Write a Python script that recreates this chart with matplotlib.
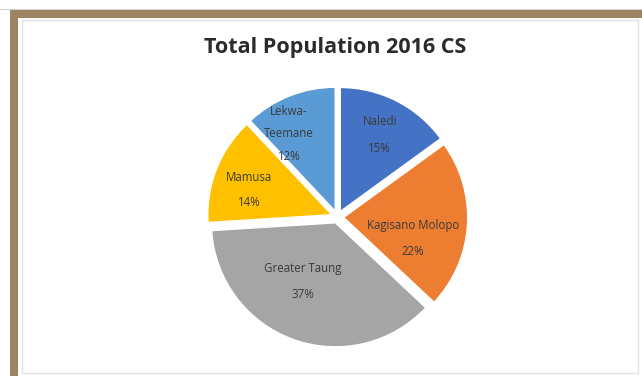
import matplotlib
matplotlib.use("Agg")
import matplotlib.pyplot as plt
from matplotlib.patches import Rectangle

# Data
districts = ["Naledi", "Kagisano Molopo", "Greater Taung", "Mamusa", "Lekwa-\nTeemane"]
shares = [15, 22, 37, 14, 12]
colors = ["#4472C4", "#ED7D31", "#A5A5A5", "#FFC000", "#5B9BD5"]
title = "Total Population 2016 CS"

# Label anchor points (data units, radius = 1) and line spacing per label
label_xy = [(0.34, 0.66), (0.61, -0.17), (-0.28, -0.52), (-0.71, 0.22), (-0.39, 0.67)]
label_spacing = [2.4, 2.3, 2.3, 2.2, 1.95]

W, H = 642, 376
fig = plt.figure(figsize=(W / 100, H / 100), dpi=100)
fig.patch.set_facecolor("white")

def px_rect(x0, y0, x1, y1, **kw):
    # rectangle given in pixel coords measured from the top-left corner
    return Rectangle((x0 / W, 1 - y1 / H), (x1 - x0) / W, (y1 - y0) / H,
                     transform=fig.transFigure, **kw)

# inner chart box (behind the pie)
fig.add_artist(px_rect(22, 20, 638, 373, facecolor="white",
                       edgecolor="#E2E2E2", linewidth=1.0, zorder=-5))
# frame bands
fig.add_artist(px_rect(10, 10, W, 17.5, facecolor="#9C8463", edgecolor="none", zorder=5))
fig.add_artist(px_rect(10, 10, 18, H, facecolor="#9C8463", edgecolor="none", zorder=5))
fig.add_artist(px_rect(0, 9, W, 10, facecolor="#D9D2C5", edgecolor="none", zorder=5))

# pie axes: 1 data unit = 124 px, centre at (337.5, 217) px
R = 124
cx, cy = 337.5, 217
half = 1.2 * R
ax = fig.add_axes([(cx - half) / W, (H - cy - half) / H, 2 * half / W, 2 * half / H])
ax.set_zorder(1)
ax.patch.set_visible(False)
wedges, _ = ax.pie(shares, colors=colors, startangle=90, counterclock=False,
                   explode=[0.05] * len(shares),
                   wedgeprops=dict(edgecolor="white", linewidth=1.0))
ax.set_xlim(-1.2, 1.2)
ax.set_ylim(-1.2, 1.2)
ax.set_aspect("auto")
ax.axis("off")

for name, val, (x, y), ls in zip(districts, shares, label_xy, label_spacing):
    ax.text(x, y, f"{name}\n{val}%", ha="center", va="center",
            fontsize=8.3, color="#3A3A3A", linespacing=ls,
            family=["Open Sans", "DejaVu Sans"])

fig.text(335 / W, 1 - 47.5 / H, title, ha="center", va="center",
         fontsize=15.5, fontweight="bold", color="#2B2B2B",
         family=["Open Sans", "DejaVu Sans"], zorder=6)

fig.savefig("out.png", dpi=100)
